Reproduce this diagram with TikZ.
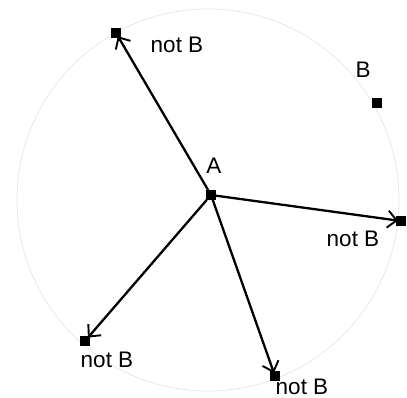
\documentclass[tikz,border=0pt]{standalone}
\usepackage{fontspec}
\setmainfont{Liberation Sans}
\usetikzlibrary{arrows.meta}
\begin{document}
\begin{tikzpicture}[x=1pt,y=1pt,
  pt/.style={fill=black,inner sep=0pt,minimum size=9.5pt,rectangle},
  lbl/.style={font=\fontsize{22.5}{26}\selectfont,inner sep=0pt},
  arr/.style={line width=2.3pt,-{Straight Barb[length=9pt,width=17pt,line width=1.9pt]},shorten >=-2pt}]
\useasboundingbox (0,0) rectangle (407,398);
\draw[black!9,line width=0.8pt] (208,198) circle (191);
\node[pt] (A) at (211,203) {};
\node[pt] (n1) at (116,365) {};
\node[pt] (B) at (377,295) {};
\node[pt] (n2) at (401,177) {};
\node[pt] (n3) at (85,57) {};
\node[pt] (n4) at (275,22) {};
\node[lbl] (lA) at (214,232) {A};
\node[lbl] (lB) at (363,328) {B};
\node[lbl] (l1) at (177,353) {not B};
\node[lbl] (l2) at (353,159) {not B};
\node[lbl] (l3) at (107,38) {not B};
\node[lbl] (l4) at (302,11) {not B};
\draw[arr] (A) -- (n1);
\draw[arr] (A) -- (n2);
\draw[arr] (A) -- (n3);
\draw[arr] (A) -- (n4);
\end{tikzpicture}
\end{document}
